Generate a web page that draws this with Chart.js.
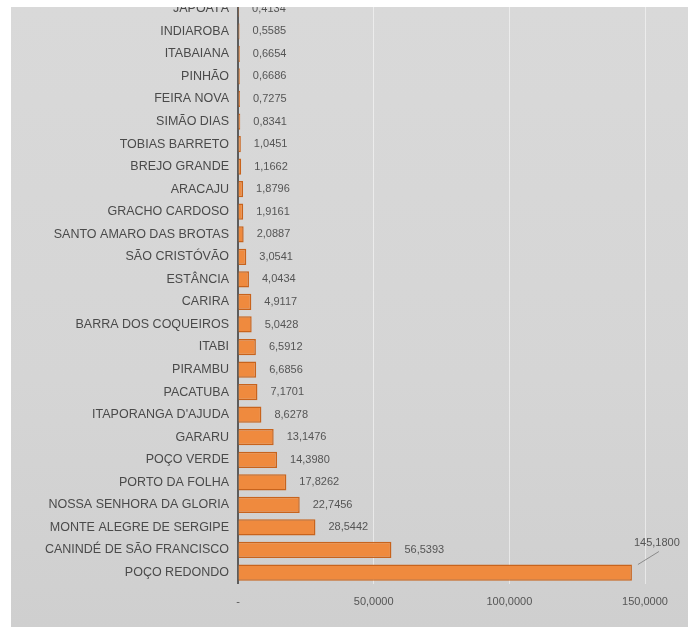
<!DOCTYPE html>
<html>
<head>
<meta charset="utf-8">
<script src="https://cdn.jsdelivr.net/npm/chart.js@4/dist/chart.umd.min.js"></script>
<style>
  html, body { margin: 0; padding: 0; background: #ffffff; width: 688px; height: 635px; overflow: hidden; }
  #wrap { position: absolute; left: 11px; top: 7px; width: 677px; height: 620px; overflow: hidden;
          background: linear-gradient(180deg, #d9d9d9 0%, #d5d5d5 60%, #cfcfcf 100%); }
  #box { position: absolute; left: 0; top: -26px; width: 677px; height: 667px; }
</style>
</head>
<body>
<div id="wrap"><div id="box"><canvas id="c"></canvas></div></div>
<script>
const municipios = [
  "JAPOATÃ", "INDIAROBA", "ITABAIANA", "PINHÃO", "FEIRA NOVA", "SIMÃO DIAS",
  "TOBIAS BARRETO", "BREJO GRANDE", "ARACAJU", "GRACHO CARDOSO",
  "SANTO AMARO DAS BROTAS", "SÃO CRISTÓVÃO", "ESTÂNCIA", "CARIRA",
  "BARRA DOS COQUEIROS", "ITABI", "PIRAMBU", "PACATUBA", "ITAPORANGA D'AJUDA",
  "GARARU", "POÇO VERDE", "PORTO DA FOLHA", "NOSSA SENHORA DA GLORIA",
  "MONTE ALEGRE DE SERGIPE", "CANINDÉ DE SÃO FRANCISCO", "POÇO REDONDO"
];
const valores = [
  0.4134, 0.5585, 0.6654, 0.6686, 0.7275, 0.8341,
  1.0451, 1.1662, 1.8796, 1.9161,
  2.0887, 3.0541, 4.0434, 4.9117,
  5.0428, 6.5912, 6.6856, 7.1701, 8.6278,
  13.1476, 14.3980, 17.8262, 22.7456,
  28.5442, 56.5393, 145.1800
];
const xTicks = [0, 50, 100, 150];

function fmt(v) { return v.toFixed(4).replace('.', ','); }

const valueLabels = {
  id: 'valueLabels',
  afterDatasetsDraw(chart) {
    const ctx = chart.ctx;
    const meta = chart.getDatasetMeta(0);
    ctx.save();
    ctx.font = '11px "Liberation Sans", Arial, sans-serif';
    ctx.fillStyle = '#555555';
    ctx.textBaseline = 'middle';
    ctx.textAlign = 'left';
    const last = meta.data.length - 1;
    meta.data.forEach((bar, i) => {
      const txt = fmt(valores[i]);
      if (i === last) {
        ctx.strokeStyle = '#8a8a8a';
        ctx.lineWidth = 1;
        ctx.beginPath();
        ctx.moveTo(bar.x + 6, bar.y - 8);
        ctx.lineTo(bar.x + 27, bar.y - 21);
        ctx.stroke();
        ctx.fillText(txt, bar.x + 2, bar.y - 30);
      } else {
        ctx.fillText(txt, bar.x + 13, bar.y);
      }
    });
    ctx.restore();
  }
};

new Chart(document.getElementById('c'), {
  type: 'bar',
  data: {
    labels: municipios,
    datasets: [{
      data: valores,
      backgroundColor: '#ef8a3e',
      borderColor: '#c8631c',
      borderWidth: 1.5,
      barPercentage: 0.72,
      categoryPercentage: 1.0
    }]
  },
  options: {
    indexAxis: 'y',
    responsive: true,
    maintainAspectRatio: false,
    animation: false,
    layout: { padding: { top: 0, right: 43, bottom: 27, left: 0 } },
    plugins: { legend: { display: false }, tooltip: { enabled: false } },
    scales: {
      x: {
        min: 0, max: 150,
        afterBuildTicks(scale) { scale.ticks = xTicks.map(v => ({ value: v })); },
        grid: {
          color: (c) => c.tick && c.tick.value === 0 ? 'rgba(0,0,0,0)' : 'rgba(255,255,255,0.5)',
          lineWidth: 1, drawTicks: false
        },
        border: { display: false },
        ticks: {
          padding: 12,
          color: '#555555',
          font: { family: '"Liberation Sans", Arial, sans-serif', size: 11 },
          maxRotation: 0,
          callback: (v) => v === 0 ? '-' : fmt(v)
        }
      },
      y: {
        afterFit(scale) { scale.width = 227; },
        grid: { display: false, drawTicks: false },
        border: { display: true, color: '#5c5c5c', width: 2 },
        ticks: {
          padding: 9,
          color: '#4a4a4a',
          autoSkip: false,
          font: { family: '"Liberation Sans", Arial, sans-serif', size: 12.5 }
        }
      }
    }
  },
  plugins: [valueLabels]
});
</script>
</body>
</html>
